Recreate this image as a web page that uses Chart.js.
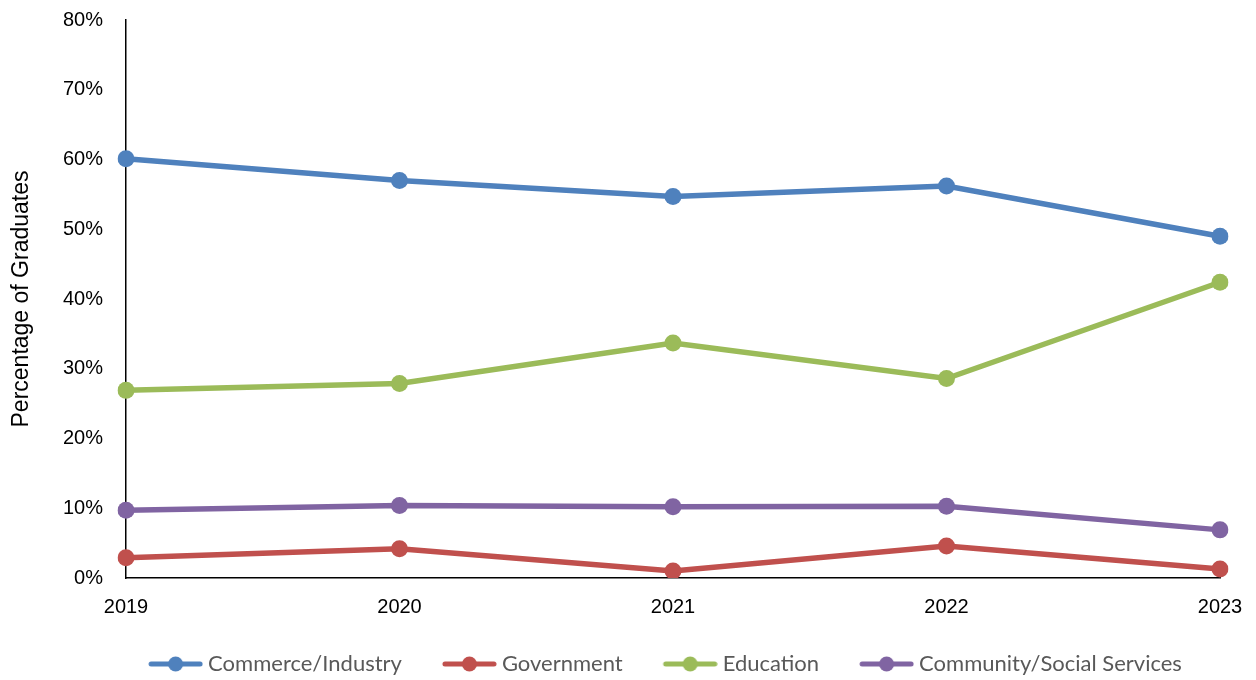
<!DOCTYPE html>
<html>
<head>
<meta charset="utf-8">
<script src="https://cdn.jsdelivr.net/npm/chart.js@4"></script>
<style>
  html, body { margin: 0; padding: 0; background: #fff; }
  #wrap { width: 1256px; height: 680px; }
</style>
</head>
<body>
<div id="wrap"><canvas id="grads"></canvas></div>
<script>
// Graduate destinations by year
const years = ['2019', '2020', '2021', '2022', '2023'];
const commerce = [60.1, 57.0, 54.7, 56.2, 49.0];
const government = [2.9, 4.2, 1.0, 4.6, 1.3];
const education = [26.9, 27.9, 33.7, 28.6, 42.4];
const community = [9.7, 10.4, 10.2, 10.3, 6.9];
const yTicks = [0, 10, 20, 30, 40, 50, 60, 70, 80];

const colors = ['#4F81BD', '#C0504D', '#9BBB59', '#8064A2'];
const names = ['Commerce/Industry', 'Government', 'Education', 'Community/Social Services'];
const series = [commerce, government, education, community];

// line + dot swatch for the legend, pushed to the right edge of the image
// so it sits close to its text
function swatch(color) {
    const c = document.createElement('canvas');
    c.width = 71;
    c.height = 18;
    const g = c.getContext('2d');
    g.strokeStyle = color;
    g.lineWidth = 5;
    g.lineCap = 'round';
    g.beginPath();
    g.moveTo(19, 9);
    g.lineTo(68, 9);
    g.stroke();
    g.fillStyle = color;
    g.beginPath();
    g.arc(43.5, 9, 7.5, 0, Math.PI * 2);
    g.fill();
    return c;
}

const datasets = series.map((d, i) => ({
    label: names[i],
    data: d,
    borderColor: colors[i],
    backgroundColor: colors[i],
    borderWidth: 5.5,
    pointRadius: 8.5,
    pointHoverRadius: 8.5,
    pointBorderWidth: 0,
    tension: 0
}));

// nudge the legend row to the right
const legendShift = {
    id: 'legendShift',
    afterLayout(chart) {
        const lg = chart.legend;
        if (!lg) return;
        lg.left += 50;
        lg.right += 50;
    }
};

// invisible tick marks, used only to space the labels off the axis
const hiddenTicks = { display: true, drawOnChartArea: false, drawTicks: true, color: 'rgba(0,0,0,0)' };

new Chart(document.getElementById('grads'), {
    type: 'line',
    data: { labels: years, datasets: datasets },
    plugins: [legendShift],
    options: {
        responsive: true,
        maintainAspectRatio: false,
        animation: false,
        layout: { padding: { top: 20, right: 36, left: 0, bottom: -5 } },
        plugins: {
            tooltip: { enabled: false },
            legend: {
                position: 'bottom',
                labels: {
                    usePointStyle: true,
                    pointStyleWidth: 59,
                    boxHeight: 18,
                    padding: 30,
                    color: '#595959',
                    font: { family: 'Lato', size: 22 },
                    generateLabels: (chart) => {
                        const items = Chart.defaults.plugins.legend.labels.generateLabels(chart);
                        items.forEach((it, i) => { it.pointStyle = swatch(colors[i]); });
                        return items;
                    }
                }
            }
        },
        scales: {
            x: {
                offset: false,
                grid: { ...hiddenTicks, tickLength: 17 },
                border: { display: true, color: '#000', width: 1.5 },
                ticks: {
                    color: '#000',
                    padding: 0,
                    maxRotation: 0,
                    font: { family: 'Liberation Sans', size: 20 }
                },
                afterFit: (axis) => { axis.height = 45; }
            },
            y: {
                min: 0,
                max: 80,
                afterBuildTicks: (axis) => { axis.ticks = yTicks.map(v => ({ value: v })); },
                grid: { ...hiddenTicks, tickLength: 23 },
                border: { display: true, color: '#000', width: 1.5 },
                ticks: {
                    color: '#000',
                    padding: 0,
                    font: { family: 'Liberation Sans', size: 20 },
                    callback: (v) => v + '%'
                },
                title: {
                    display: true,
                    text: 'Percentage of Graduates',
                    color: '#000',
                    font: { family: 'Liberation Sans', size: 23 },
                    padding: { top: 8, bottom: 0 }
                },
                afterFit: (axis) => { axis.width = 126; }
            }
        }
    }
});
</script>
</body>
</html>
